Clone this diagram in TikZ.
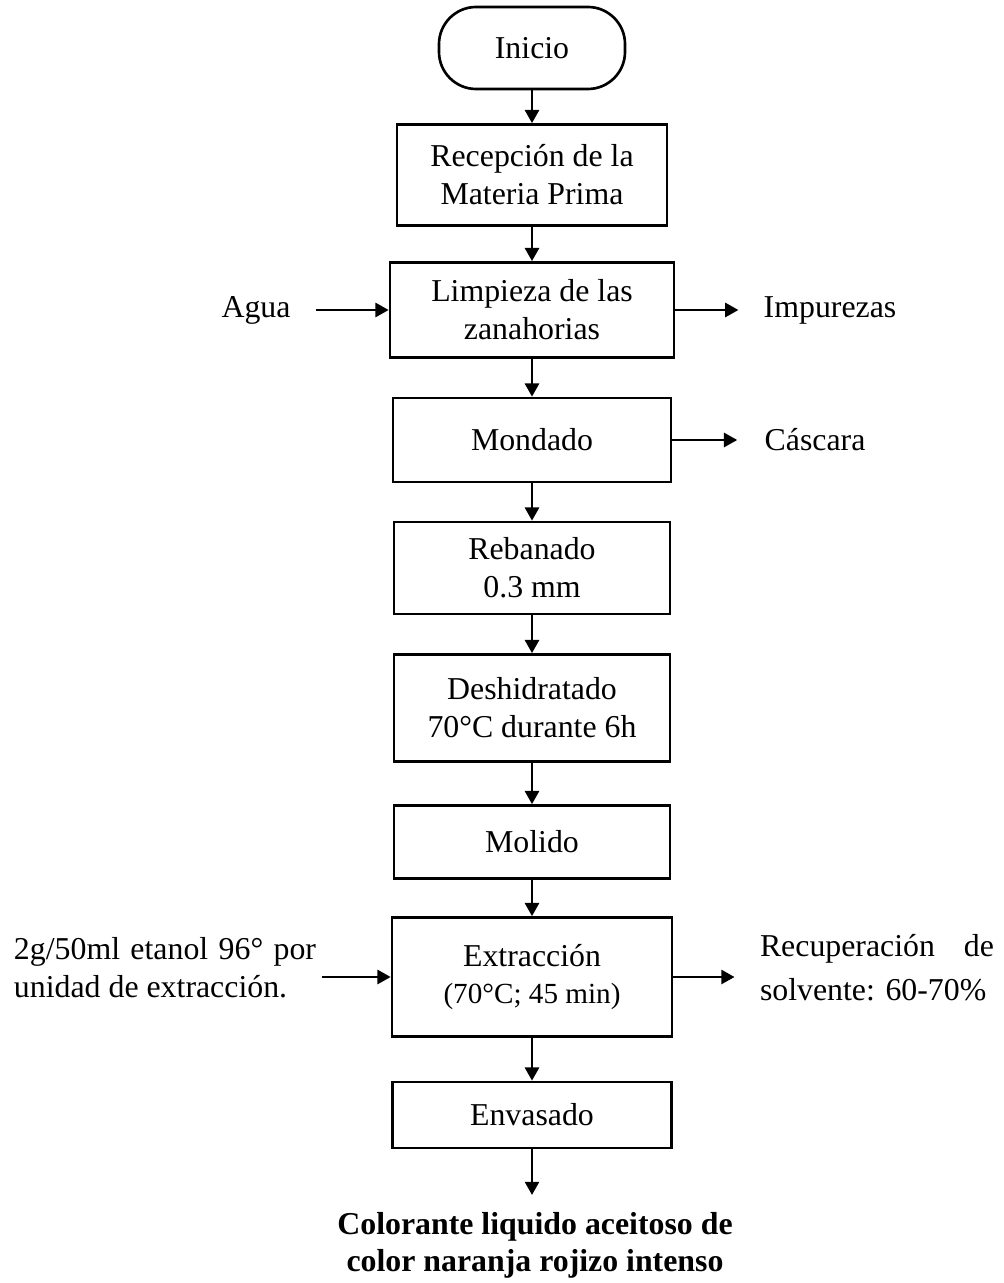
\documentclass[tikz,border=0pt]{standalone}
\usepackage{fontspec}
\setmainfont{Liberation Serif}
\usetikzlibrary{arrows.meta}
\begin{document}
\begin{tikzpicture}[x = .377pt, y = -.377pt,
    font = \fontsize{12}{14.3}\selectfont, align = center,
    box/.style 2 args = {draw, line width = 1pt, minimum width = #1*.377pt, minimum height = #2*.377pt},
    flow/.style = {-{Triangle[length = 5pt, width = 5.3pt]}, line width = 1pt},
    side/.style = {inner sep = 0pt, text width = #1*.377pt, align = justify}]
  \useasboundingbox (0,0) rectangle (1003,1283);
  \node [box = {186}{82}, rounded corners = 14pt] (inicio) at (532,48) {Inicio};
  \node [box = {270}{101}] (recep) at (532,175) {Recepción de la\\Materia Prima};
  \node [box = {284}{95}] (limp) at (532,310) {Limpieza de las\\zanahorias};
  \node [box = {278}{84}] (mond) at (532,440) {Mondado};
  \node [box = {276}{92}] (reban) at (532,568) {Rebanado\\0.3 mm};
  \node [box = {276}{107}] (deshid) at (532,708) {Deshidratado\\70°C durante 6h};
  \node [box = {276}{73}] (mol) at (532,842) {Molido};
  \node [box = {280}{119}] (extr) at (532,977) {Extracción\\{\fontsize{11}{13}\selectfont (70°C; 45 min)}};
  \node [box = {279}{66}] (envas) at (532,1115) {Envasado};
  \node [font = \fontsize{12}{14}\selectfont\bfseries] (prod) at (535,1245) {Colorante liquido aceitoso de\\color naranja rojizo intenso};
  \coordinate (fin) at (532,1195);
  \node (agua) at (256,310) {Agua};
  \node (impur) at (830,310) {Impurezas};
  \node (casc) at (815,440) {Cáscara};
  \node [side = 302] (etanol) at (165,968) {2g/50ml etanol 96° por\linebreak unidad de extracción.};
  \node [side = 234, font = \fontsize{12}{16.6}\selectfont] (recup) at (877,968) {Recuperación de\linebreak solvente: 60-70\%};
  \draw [flow] (inicio) -- (recep);
  \draw [flow] (recep) -- (limp);
  \draw [flow] (limp) -- (mond);
  \draw [flow] (mond) -- (reban);
  \draw [flow] (reban) -- (deshid);
  \draw [flow] (deshid) -- (mol);
  \draw [flow] (mol) -- (extr);
  \draw [flow] (extr) -- (envas);
  \draw [flow] (envas) -- (fin);
  \draw [flow, shorten <= 6pt] (agua) -- (limp);
  \draw [flow, shorten >= 6pt] (limp) -- (impur);
  \draw [flow, shorten >= 6.8pt] (mond) -- (casc);
  \draw [flow, shorten <= 2pt] (extr -| etanol.east) -- (extr.west);
  \draw [flow, shorten >= 9.4pt] (extr.east) -- (extr -| recup.west);
\end{tikzpicture}
\end{document}
